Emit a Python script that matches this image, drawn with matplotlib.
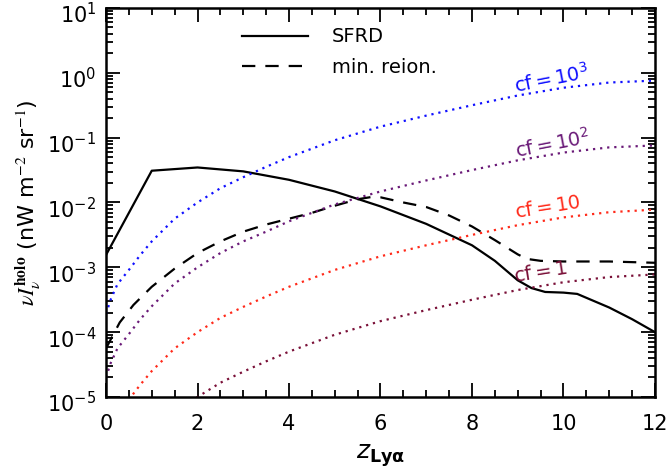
import numpy as np
import matplotlib
matplotlib.use("Agg")
import matplotlib.pyplot as plt
from matplotlib.transforms import ScaledTranslation

# SFRD (solid)
z_sfrd = [0, 1, 2, 3, 4, 5, 6, 7, 8, 8.5, 9, 9.3, 9.6, 10, 10.3, 10.6, 11, 11.5, 12]
log_sfrd = [-2.81, -1.51, -1.46, -1.52, -1.65, -1.83, -2.06, -2.33, -2.66, -2.90,
            -3.20, -3.32, -3.38, -3.39, -3.41, -3.50, -3.62, -3.80, -4.0]

# min. reion. (dashed)
z_reion = [0, 0.3, 0.6, 1, 1.5, 2, 2.5, 3, 3.5, 4, 4.5, 5, 5.5, 5.85, 6, 6.5, 7, 7.5,
           8, 8.5, 9, 9.2, 9.5, 10, 11, 12]
log_reion = [-4.25, -3.85, -3.58, -3.30, -3.02, -2.78, -2.60, -2.45, -2.34, -2.25,
             -2.16, -2.05, -1.95, -1.91, -1.92, -2.0, -2.07, -2.20, -2.37, -2.58,
             -2.80, -2.87, -2.90, -2.91, -2.91, -2.93]

# cf curves (dotted)
z_cf = [0, 0.1, 0.25, 0.5, 0.75, 1, 1.5, 2, 2.5, 3, 3.5, 4, 5, 6, 7, 8, 9, 10, 11, 12]
log_cf1000 = [-3.72, -3.50, -3.26, -3.04, -2.81, -2.60, -2.25, -2.00, -1.78, -1.61,
              -1.45, -1.30, -1.04, -0.83, -0.66, -0.50, -0.35, -0.23, -0.15, -0.12]
log_cf100 = [-4.70, -4.48, -4.25, -4.03, -3.80, -3.60, -3.25, -3.00, -2.78, -2.60,
             -2.45, -2.29, -2.03, -1.83, -1.66, -1.50, -1.35, -1.23, -1.15, -1.12]
log_cf10 = [-5.72, -5.50, -5.26, -5.04, -4.81, -4.60, -4.25, -4.00, -3.78, -3.61,
            -3.45, -3.30, -3.04, -2.83, -2.66, -2.50, -2.35, -2.23, -2.15, -2.11]
log_cf1 = [-6.72, -6.50, -6.26, -6.04, -5.81, -5.60, -5.25, -5.00, -4.78, -4.61,
           -4.45, -4.30, -4.04, -3.83, -3.66, -3.50, -3.35, -3.23, -3.15, -3.11]

cf_labels = [r'cf$=$10$^3$', r'cf$=$10$^2$', r'cf$=$10', r'cf$=$1']
cf_colors = ['#1010ff', '#6a1a78', '#ff2a1a', '#7a1038']
cf_series = [log_cf1000, log_cf100, log_cf10, log_cf1]
label_pos = [(9.75, 0.80, 11), (9.75, 0.080, 11), (9.66, 0.0085, 9), (9.49, 0.00085, 9)]

y_ticks = [1e-5, 1e-4, 1e-3, 1e-2, 1e-1, 1e0, 1e1]
x_ticks = [0, 2, 4, 6, 8, 10, 12]

plt.rcParams['font.family'] = ['DejaVu Sans']
plt.rcParams['mathtext.fontset'] = 'dejavusans'

fig = plt.figure(figsize=(6.68, 4.72), dpi=100)
ax = fig.add_axes([0.1587, 0.1589, 0.8218, 0.8242])

ax.plot(z_sfrd, 10**np.array(log_sfrd), color='black', lw=1.6, ls='-', label='SFRD')
ax.plot(z_reion, 10**np.array(log_reion), color='black', lw=1.6, ls=(0, (6, 4.5)), label='min. reion.')

for vals, col in zip(cf_series, cf_colors):
    ax.plot(z_cf, 10**np.array(vals), color=col, lw=1.6, ls=(0, (1, 2.2)))

for lab, col, (x, y, r) in zip(cf_labels, cf_colors, label_pos):
    ax.text(x, y, lab, color=col, fontsize=14, ha='center', va='center', rotation=r)

ax.set_xlim(0, 12)
ax.set_yscale('log')
ax.set_ylim(1e-5, 1e1)
ax.set_yticks(y_ticks)
ax.set_xticks(x_ticks)
ax.set_xticks(np.arange(0, 12.01, 0.5), minor=True)
ax.tick_params(which='both', direction='in', top=True, right=True, labelsize=15, width=1.3)
ax.tick_params(which='major', length=10)
ax.tick_params(axis='x', which='major', pad=12)
ax.tick_params(axis='y', which='major', pad=7)
ax.tick_params(which='minor', length=5)
ax.yaxis.set_minor_locator(matplotlib.ticker.LogLocator(base=10, subs=np.arange(2, 10), numticks=20))
ax.yaxis.set_minor_formatter(matplotlib.ticker.NullFormatter())
for s in ax.spines.values():
    s.set_linewidth(1.8)

fig.canvas.draw()
off = ScaledTranslation(0, -5 / 100, fig.dpi_scale_trans)
for lbl in ax.get_yticklabels():
    lbl.set_transform(lbl.get_transform() + off)

ax.set_xlabel(r'$z_{\mathbf{Ly\alpha}}$', fontsize=18, labelpad=6)
ax.set_ylabel(r'$\nu I_\nu^{\mathbf{holo}}$ (nW m$^{-2}$ sr$^{-1}$)', fontsize=16, labelpad=3,
              math_fontfamily='stix')

leg = ax.legend(loc='upper center', bbox_to_anchor=(0.425, 0.995), frameon=False, fontsize=14,
                handlelength=3.4, handletextpad=1.2, labelspacing=0.6)

fig.savefig('out.png', dpi=100)
